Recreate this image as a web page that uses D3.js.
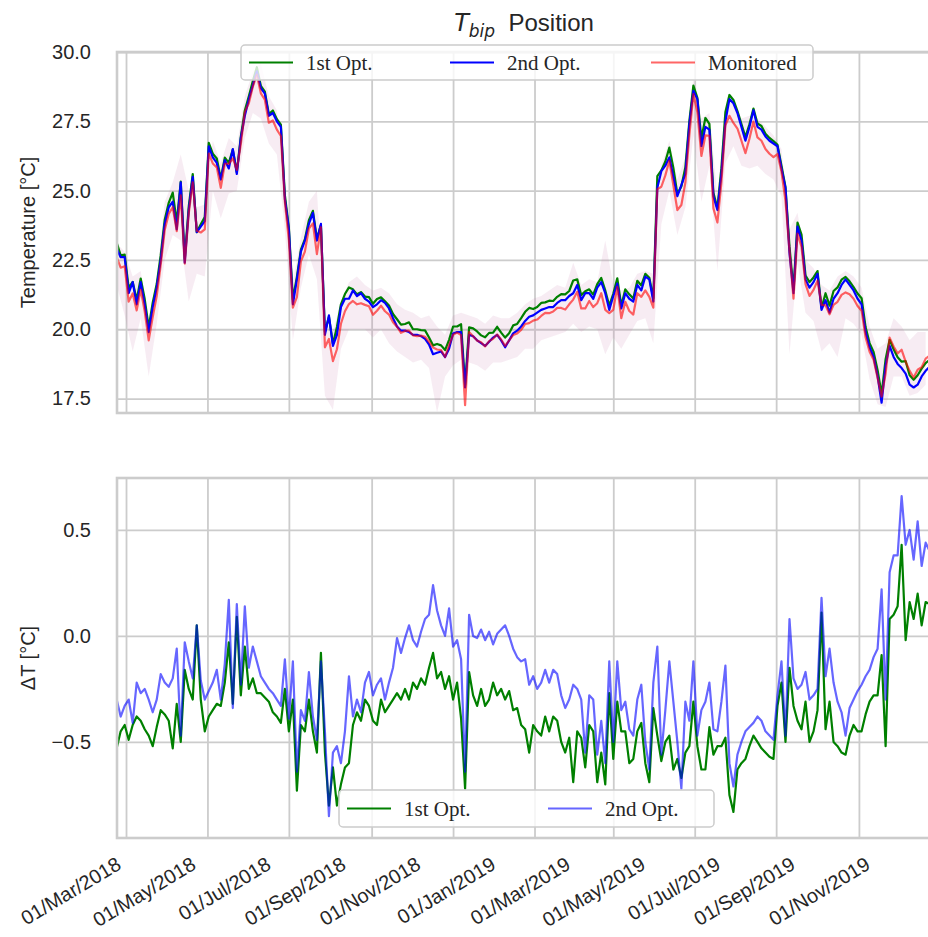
<!DOCTYPE html>
<html>
<head>
<meta charset="utf-8">
<script src="https://cdn.jsdelivr.net/npm/d3@7"></script>
<style>
  body { margin: 0; background: #fff; }
</style>
</head>
<body>
<svg id="chart" width="928" height="937"></svg>
<script>
// ---- Data: daily means sampled every 3 days, starting 22 Feb 2018 ----
const seriesStart = Date.UTC(2018, 1, 22);
const stepDays = 3;

// Monitored air temperature [°C]
const monitored = [
  22.60,22.22,22.27,21.00,21.29,20.68,21.43,20.65,19.60,20.44,
  21.20,22.32,23.58,24.16,24.40,23.54,24.83,22.37,24.18,25.30,
  23.55,23.49,23.60,26.34,25.98,25.84,25.10,25.97,25.97,26.16,
  25.75,26.67,27.84,28.15,28.75,29.18,28.51,28.28,27.45,27.53,
  27.20,26.97,24.59,23.21,20.78,21.16,22.45,22.80,23.63,23.82,
  22.71,23.68,19.35,19.65,18.85,19.28,20.20,20.65,20.91,21.02,
  20.90,20.94,20.88,20.83,20.52,20.67,20.85,20.65,20.53,20.25,
  20.09,19.87,19.94,19.95,19.78,19.75,19.77,19.73,19.55,19.34,
  19.27,19.25,19.00,19.43,19.80,19.88,19.79,17.26,19.90,19.75,
  19.59,19.53,19.38,19.57,19.66,19.81,19.63,19.40,19.60,19.79,
  19.85,19.98,20.19,20.22,20.31,20.35,20.48,20.59,20.58,20.64,
  20.77,20.77,20.71,20.90,21.07,21.35,20.75,20.75,21.02,20.80,
  20.94,21.30,20.70,20.58,20.70,21.53,20.40,20.99,20.66,20.53,
  21.30,21.17,21.40,21.17,20.78,25.05,25.14,25.55,26.08,25.19,
  24.30,24.48,25.29,27.00,28.48,27.83,26.25,26.99,26.98,24.36,
  23.85,25.29,27.36,27.70,27.44,27.24,26.80,26.35,26.87,27.49,
  26.92,26.80,26.50,26.33,26.21,26.32,25.68,24.63,22.83,21.10,
  23.45,22.97,21.63,21.20,21.42,21.75,20.88,20.86,20.54,20.88,
  20.99,21.24,21.33,21.26,21.10,20.84,20.67,19.71,19.19,18.90,
  18.24,17.57,18.40,19.70,19.38,19.13,19.26,18.83,18.50,18.26,
  18.54,18.63,18.94,19.05
];

// ΔT = Monitored − 1st optimisation [°C]
const deltaFirst = [
  -0.53,-0.45,-0.42,-0.49,-0.42,-0.38,-0.40,-0.44,-0.47,-0.52,
  -0.43,-0.35,-0.37,-0.40,-0.53,-0.32,-0.50,-0.16,-0.25,-0.30,
   0.05,-0.30,-0.45,-0.38,-0.35,-0.32,-0.33,-0.22,-0.03,-0.32,
   0.09,-0.28,-0.05,-0.25,-0.20,-0.27,-0.27,-0.29,-0.31,-0.36,
  -0.38,-0.41,-0.25,-0.45,-0.30,-0.73,-0.42,-0.45,-0.30,-0.45,
  -0.55,-0.08,-0.55,-0.80,-0.62,-0.80,-0.70,-0.62,-0.60,-0.42,
  -0.36,-0.40,-0.30,-0.33,-0.40,-0.42,-0.30,-0.36,-0.33,-0.30,
  -0.27,-0.30,-0.25,-0.30,-0.22,-0.25,-0.20,-0.23,-0.15,-0.08,
  -0.20,-0.17,-0.25,-0.19,-0.30,-0.22,-0.39,-0.72,-0.17,-0.28,
  -0.33,-0.25,-0.33,-0.30,-0.22,-0.28,-0.25,-0.30,-0.26,-0.35,
  -0.34,-0.42,-0.44,-0.55,-0.42,-0.45,-0.47,-0.38,-0.45,-0.38,
  -0.40,-0.50,-0.55,-0.48,-0.69,-0.45,-0.48,-0.62,-0.42,-0.45,
  -0.69,-0.55,-0.70,-0.27,-0.58,-0.31,-0.45,-0.45,-0.60,-0.58,
  -0.45,-0.41,-0.60,-0.69,-0.34,-0.47,-0.59,-0.50,-0.47,-0.63,
  -0.58,-0.67,-0.55,-0.52,-0.31,-0.52,-0.63,-0.63,-0.43,-0.56,
  -0.52,-0.52,-0.48,-0.75,-0.83,-0.63,-0.60,-0.58,-0.52,-0.47,
  -0.50,-0.53,-0.55,-0.57,-0.58,-0.33,-0.22,-0.50,-0.15,-0.33,
  -0.40,-0.44,-0.31,-0.50,-0.45,-0.35, 0.11,-0.44,-0.31,-0.50,
  -0.52,-0.55,-0.56,-0.47,-0.42,-0.45,-0.45,-0.37,-0.31,-0.28,
  -0.28,-0.09,-0.52, 0.08, 0.10, 0.14, 0.43,-0.02, 0.16, 0.08,
   0.20, 0.05, 0.16, 0.15
];

// ΔT = Monitored − 2nd optimisation [°C]
const deltaSecond = [
  -0.30,-0.38,-0.33,-0.30,-0.41,-0.22,-0.27,-0.25,-0.30,-0.36,
  -0.30,-0.18,-0.22,-0.24,-0.20,-0.06,-0.47,-0.03,-0.12,-0.20,
   0.05,-0.21,-0.30,-0.26,-0.22,-0.16,-0.30,-0.13, 0.17,-0.34,
   0.15,-0.23, 0.14,-0.15,-0.05,-0.12,-0.19,-0.22,-0.25,-0.27,
  -0.30,-0.33,-0.11,-0.39,-0.12,-0.64,-0.35,-0.40,-0.17,-0.38,
  -0.49,-0.12,-0.45,-0.85,-0.55,-0.52,-0.60,-0.45,-0.19,-0.38,
  -0.30,-0.36,-0.22,-0.17,-0.28,-0.23,-0.20,-0.30,-0.22,-0.15,
  -0.01,-0.08,-0.01, 0.05,-0.02,-0.05, 0.02, 0.08, 0.10, 0.24,
   0.12, 0.05, 0.00, 0.13,-0.05,-0.02,-0.11,-0.64, 0.10, 0.00,
  -0.01, 0.03,-0.02, 0.02,-0.04, 0.01, 0.03, 0.05, 0.00,-0.06,
  -0.10,-0.12,-0.11,-0.23,-0.19,-0.25,-0.22,-0.16,-0.22,-0.16,
  -0.18,-0.28,-0.34,-0.30,-0.23,-0.25,-0.30,-0.55,-0.28,-0.30,
  -0.56,-0.40,-0.60,-0.12,-0.50,-0.12,-0.35,-0.31,-0.44,-0.47,
  -0.30,-0.23,-0.50,-0.63,-0.22,-0.05,-0.56,-0.35,-0.12,-0.31,
  -0.50,-0.72,-0.31,-0.40,-0.12,-0.47,-0.35,-0.31,-0.22,-0.44,
  -0.45,-0.31,-0.14,-0.60,-0.71,-0.56,-0.50,-0.45,-0.43,-0.41,
  -0.38,-0.40,-0.45,-0.47,-0.49,-0.28,-0.12,-0.47, 0.08,-0.20,
  -0.25,-0.23,-0.17,-0.30,-0.28,-0.25, 0.18,-0.19,-0.06,-0.22,
  -0.31,-0.36,-0.47,-0.34,-0.30,-0.26,-0.23,-0.19,-0.16,-0.10,
  -0.06, 0.22,-0.30, 0.30, 0.38, 0.38, 0.66, 0.43, 0.50, 0.36,
   0.54, 0.33, 0.44, 0.40
];

// Hourly monitored range, every 6 days from the same start [°C]
const hourlyStepDays = 6;
const hourlyLow = [
  21.6,20.5,19.2,20.4,18.3,20.2,22.5,23.4,23.2,21.0,
  22.0,21.9,25.0,24.0,24.9,25.0,26.9,27.8,27.6,26.7,
  26.3,23.6,19.6,21.5,22.7,21.8,17.6,17.1,19.3,20.0,
  20.0,20.0,19.7,20.0,19.5,19.2,19.0,18.8,18.9,18.6,
  17.0,18.3,18.7,18.9,18.8,18.7,18.5,18.8,18.8,18.9,
  19.0,19.3,19.3,19.6,19.7,19.8,19.9,20.2,19.9,20.1,
  20.0,19.1,19.7,19.3,19.8,20.3,20.4,19.5,23.8,25.0,
  23.4,24.4,27.0,24.6,25.9,22.1,26.0,26.6,25.9,25.8,
  25.9,25.6,25.4,24.8,19.1,22.4,20.6,20.3,19.2,19.5,
  19.0,20.4,20.2,19.8,18.2,17.3,17.2,18.3,18.3,17.6,
  17.7,18.0
];
const hourlyHigh = [
  23.1,22.8,21.9,22.1,20.3,21.8,24.6,25.3,26.3,25.0,
  24.4,24.5,26.8,26.0,26.9,26.6,28.4,29.3,29.6,28.4,
  27.9,25.3,21.7,23.3,24.6,25.0,20.2,19.9,21.0,21.7,
  21.9,21.6,21.4,21.5,21.3,20.9,20.7,20.6,20.4,20.5,
  20.1,19.8,20.5,20.6,20.5,20.4,20.2,20.5,20.4,20.4,
  20.6,20.9,21.1,21.2,21.4,21.6,21.5,22.4,21.6,21.8,
  21.7,23.2,21.6,21.4,21.5,22.0,22.1,22.0,25.9,26.8,
  25.4,26.2,29.1,27.6,27.8,24.8,28.0,28.3,27.6,27.7,
  27.6,27.3,27.0,26.5,23.6,24.2,22.5,22.2,21.6,21.4,
  21.9,22.1,21.9,21.5,20.1,19.3,19.5,20.4,20.1,19.6,
  19.9,19.9
];

// Axis ticks and labels
const tempTicks = [17.5, 20, 22.5, 25, 27.5, 30];
const deltaTicks = [-0.5, 0, 0.5];
const dateLabels = [
  "01/Mar/2018","01/May/2018","01/Jul/2018","01/Sep/2018","01/Nov/2018",
  "01/Jan/2019","01/Mar/2019","01/May/2019","01/Jul/2019","01/Sep/2019","01/Nov/2019"
];
const tempLegend = ["1st Opt.", "2nd Opt.", "Monitored"];
const deltaLegend = ["1st Opt.", "2nd Opt."];

// ---- Layout and styles ----
const sans = "'Liberation Sans', Arial, Helvetica, sans-serif";
const serif = "'Liberation Serif', 'Times New Roman', serif";
const gridColor = "#cccccc";
const textColor = "#262626";
const frame = { left: 117, right: 931 };
const tempPanel = { top: 52, bottom: 413 };
const deltaPanel = { top: 478, bottom: 838 };
const colors = { first: "#008000", second: "#0000ff", monitored: "#ff0000", hourly: "#c878aa" };

const svg = d3.select("#chart");
const DAY = 864e5;

const rows = monitored.map((m, i) => ({
  date: new Date(seriesStart + i * stepDays * DAY),
  mon: m, d1: deltaFirst[i], d2: deltaSecond[i]
}));
const hourly = hourlyLow.map((lo, i) => ({
  date: new Date(seriesStart + i * hourlyStepDays * DAY),
  lo, hi: hourlyHigh[i]
}));

const x = d3.scaleUtc()
  .domain([new Date(Date.UTC(2018, 1, 22, 6)), new Date(Date.UTC(2019, 9, 25))])
  .range([frame.left, frame.right]);
const yTemp = d3.scaleLinear().domain([16.98, 30]).range([tempPanel.bottom, tempPanel.top]);
const yDelta = d3.scaleLinear().domain([-0.953, 0.745]).range([deltaPanel.bottom, deltaPanel.top]);

// Grid lines and y tick labels for one panel
function drawGrid(y, ticks, p) {
  const g = svg.append("g");
  g.append("g")
    .attr("transform", `translate(0,${p.bottom})`)
    .call(d3.axisBottom(x).ticks(d3.utcMonth.every(2)).tickSize(-(p.bottom - p.top)).tickFormat(""))
    .call(s => s.select(".domain").remove())
    .call(s => s.selectAll("line").attr("stroke", gridColor).attr("stroke-width", 1.8));
  g.append("g")
    .attr("transform", `translate(${frame.left},0)`)
    .call(d3.axisLeft(y).tickValues(ticks).tickSize(-(frame.right - frame.left))
      .tickPadding(26).tickFormat(d3.format(".1f")))
    .call(s => s.select(".domain").remove())
    .call(s => s.selectAll("line").attr("stroke", gridColor).attr("stroke-width", 1.8))
    .call(s => s.selectAll("text")
      .attr("font-size", 20).attr("font-family", sans).attr("fill", textColor));
}

function clipFor(id, p) {
  svg.append("clipPath").attr("id", id)
    .append("rect")
    .attr("x", frame.left).attr("y", p.top)
    .attr("width", frame.right - frame.left).attr("height", p.bottom - p.top);
  return `url(#${id})`;
}

function drawFrame(p) {
  svg.append("rect")
    .attr("x", frame.left).attr("y", p.top)
    .attr("width", frame.right - frame.left).attr("height", p.bottom - p.top)
    .attr("fill", "none").attr("stroke", gridColor).attr("stroke-width", 2.6);
}

function drawLegend(labels, styles, box) {
  const g = svg.append("g");
  g.append("rect")
    .attr("x", box.x).attr("y", box.y).attr("width", box.w).attr("height", box.h)
    .attr("rx", 4).attr("fill", "#ffffff").attr("fill-opacity", 0.8)
    .attr("stroke", gridColor).attr("stroke-width", 1.5);
  const cy = box.y + box.h / 2;
  labels.forEach((label, i) => {
    const x0 = box.x + 8 + i * 201;
    g.append("line")
      .attr("x1", x0).attr("x2", x0 + 44).attr("y1", cy).attr("y2", cy)
      .attr("stroke", styles[i].color).attr("stroke-opacity", styles[i].opacity)
      .attr("stroke-width", 2);
    g.append("text")
      .attr("x", x0 + 57).attr("y", cy + 7)
      .attr("font-family", serif).attr("font-size", 21).attr("fill", textColor)
      .text(label);
  });
}

// ---- Upper panel: temperatures ----
drawGrid(yTemp, tempTicks, tempPanel);
const clipTemp = clipFor("clip-temp", tempPanel);
const gTemp = svg.append("g").attr("clip-path", clipTemp);

// faint hourly range behind the daily lines
gTemp.append("path")
  .datum(hourly)
  .attr("fill", colors.hourly).attr("fill-opacity", 0.14)
  .attr("d", d3.area().x(d => x(d.date)).y0(d => yTemp(d.lo)).y1(d => yTemp(d.hi)));

const tempLine = f => d3.line().x(d => x(d.date)).y(d => yTemp(f(d)));
gTemp.append("path").datum(rows)
  .attr("fill", "none").attr("stroke", colors.first).attr("stroke-width", 2.2)
  .attr("stroke-linejoin", "round")
  .attr("d", tempLine(d => d.mon - d.d1));
gTemp.append("path").datum(rows)
  .attr("fill", "none").attr("stroke", colors.second).attr("stroke-width", 2.2)
  .attr("stroke-linejoin", "round")
  .attr("d", tempLine(d => d.mon - d.d2));
gTemp.append("path").datum(rows)
  .attr("fill", "none").attr("stroke", colors.monitored).attr("stroke-opacity", 0.6)
  .attr("stroke-width", 2.2).attr("stroke-linejoin", "round")
  .attr("d", tempLine(d => d.mon));

drawFrame(tempPanel);

// ---- Lower panel: differences ----
drawGrid(yDelta, deltaTicks, deltaPanel);
const clipDelta = clipFor("clip-delta", deltaPanel);
const gDelta = svg.append("g").attr("clip-path", clipDelta);
const deltaLine = f => d3.line().x(d => x(d.date)).y(d => yDelta(f(d)));
gDelta.append("path").datum(rows)
  .attr("fill", "none").attr("stroke", colors.first).attr("stroke-width", 2.2)
  .attr("stroke-linejoin", "round")
  .attr("d", deltaLine(d => d.d1));
gDelta.append("path").datum(rows)
  .attr("fill", "none").attr("stroke", colors.second).attr("stroke-opacity", 0.6)
  .attr("stroke-width", 2.2).attr("stroke-linejoin", "round")
  .attr("d", deltaLine(d => d.d2));

drawFrame(deltaPanel);

// ---- Date labels under the lower panel ----
const xLabels = d3.scalePoint().domain(dateLabels).range([122, 871]);
svg.append("g")
  .attr("transform", "translate(0,868)")
  .call(d3.axisBottom(xLabels).tickSize(0))
  .call(s => s.select(".domain").remove())
  .call(s => s.selectAll("text")
    .attr("y", 0).attr("dy", 0)
    .attr("transform", "rotate(-31)")
    .attr("text-anchor", "end")
    .attr("font-size", 20).attr("font-family", sans).attr("fill", textColor));

// ---- Legends ----
drawLegend(tempLegend,
  [{ color: colors.first, opacity: 1 }, { color: colors.second, opacity: 1 }, { color: colors.monitored, opacity: 0.6 }],
  { x: 241, y: 45, w: 572, h: 35 });
drawLegend(deltaLegend,
  [{ color: colors.first, opacity: 1 }, { color: colors.second, opacity: 0.6 }],
  { x: 339, y: 790, w: 375, h: 37 });

// ---- Axis titles ----
svg.append("text")
  .attr("transform", `translate(35,${(tempPanel.top + tempPanel.bottom) / 2}) rotate(-90)`)
  .attr("text-anchor", "middle").attr("font-family", sans).attr("font-size", 20).attr("fill", textColor)
  .text("Temperature [°C]");
svg.append("text")
  .attr("transform", `translate(35,${(deltaPanel.top + deltaPanel.bottom) / 2}) rotate(-90)`)
  .attr("text-anchor", "middle").attr("font-family", sans).attr("font-size", 20).attr("fill", textColor)
  .text("ΔT [°C]");

// Title: T with subscript "bip", then "Position"
const title = svg.append("text")
  .attr("x", (frame.left + frame.right) / 2).attr("y", 31)
  .attr("text-anchor", "middle").attr("font-family", sans).attr("font-size", 24).attr("fill", textColor);
title.append("tspan").attr("font-family", "'DejaVu Sans', sans-serif").attr("font-style", "italic").text("T");
title.append("tspan").attr("font-family", "'DejaVu Sans', sans-serif").attr("font-style", "italic")
  .attr("font-size", 17).attr("dy", 6).text("bip");
title.append("tspan").attr("dy", -6).text("\u00a0\u00a0Position");
</script>
</body>
</html>
